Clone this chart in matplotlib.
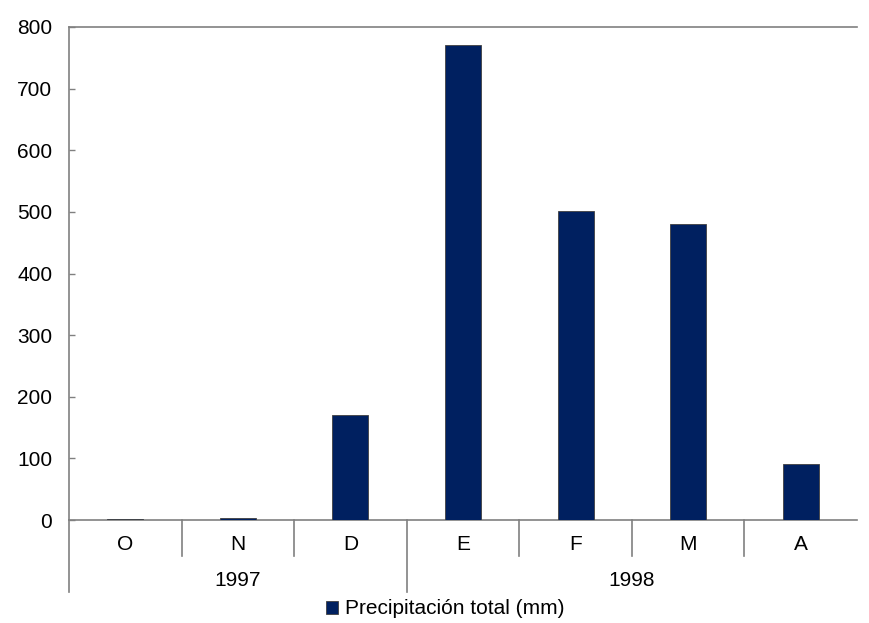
import matplotlib
matplotlib.use("Agg")
import matplotlib.pyplot as plt
from matplotlib.transforms import blended_transform_factory
from matplotlib.patches import Patch

plt.rcParams['font.family'] = ['Liberation Sans', 'DejaVu Sans']

months = ["O", "N", "D", "E", "F", "M", "A"]
years = ["1997", "1998"]
year_spans = [(0, 3), (3, 7)]
values = [1, 3, 170, 770, 502, 480, 91]
series_name = "Precipitación total (mm)"
yticks = [0, 100, 200, 300, 400, 500, 600, 700, 800]

FS = 15

fig = plt.figure(figsize=(8.69, 6.23), dpi=100)
ax = fig.add_axes([69/869, 1-520/623, (857-69)/869, (520-27)/623])

x = list(range(len(months)))
ax.bar(x, values, width=0.32, color="#002060", edgecolor="#404040", linewidth=0.6, zorder=3)

ax.set_xlim(-0.5, len(months) - 0.5)
ax.set_ylim(0, 800)
ax.set_yticks(yticks)
ax.set_yticklabels([str(v) for v in yticks], fontsize=FS)
ax.tick_params(axis='y', direction='in', length=4.5, color='#808080', width=1, pad=12)
ax.set_xticks([])

ax.spines['right'].set_visible(False)
for s in ['left', 'top', 'bottom']:
    ax.spines[s].set_color('#808080')
    ax.spines[s].set_linewidth(1.2)

trans = blended_transform_factory(ax.transData, ax.transAxes)
h_ax = (520-27)
month_drop = 36 / h_ax
year_drop = 72 / h_ax

for i, m in enumerate(months):
    ax.text(i, -25/h_ax, m, transform=trans, ha='center', va='center', fontsize=FS)

for i in range(len(months)):
    xs = i - 0.5
    start_of_year = any(xs == a - 0.5 for a, b in year_spans)
    drop = year_drop if start_of_year else month_drop
    ax.plot([xs, xs], [0, -drop], transform=trans, color='#808080', lw=1.2, clip_on=False)

for (a, b), yr in zip(year_spans, years):
    ax.text((a + b - 1) / 2, -60/h_ax, yr, transform=trans, ha='center', va='center', fontsize=FS)

handle = Patch(facecolor="#002060", edgecolor="#404040", linewidth=0.6)
fig.legend([handle], [series_name], loc='center', bbox_to_anchor=(445/869, 1-609/623),
           frameon=False, fontsize=FS, handlelength=0.6, handleheight=0.6, handletextpad=0.3)

fig.savefig("out.png", dpi=100)
